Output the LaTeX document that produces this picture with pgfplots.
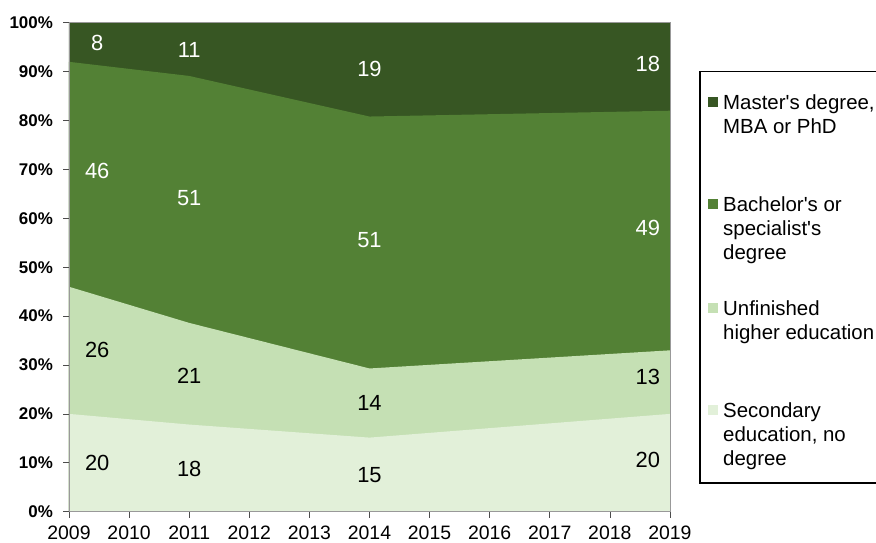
\documentclass[border=0pt]{standalone}
\usepackage{pgfplots}
\pgfplotsset{compat=1.18}
\usepackage{fontspec}
\setmainfont{Liberation Sans}

\definecolor{master}{HTML}{375623}
\definecolor{bachelor}{HTML}{538135}
\definecolor{unfinished}{HTML}{C5E0B4}
\definecolor{secondary}{HTML}{E2F0D9}

\begin{document}
\begin{tikzpicture}
\begin{axis}[
    scale only axis,
    width=601bp, height=489bp,
    xmin=2009, xmax=2019,
    ymin=0, ymax=100,
    axis on top,
    xtick={2009,...,2019},
    xticklabels={2009,2010,2011,2012,2013,2014,2015,2016,2017,2018,2019},
    ytick={0,10,...,100},
    yticklabels={0\%,10\%,20\%,30\%,40\%,50\%,60\%,70\%,80\%,90\%,100\%},
    tick pos=left,
    tick align=outside,
    major tick length=6bp,
    tick style={draw=black!70, line width=0.6bp},
    axis line style={draw=black!40, line width=0.6bp},
    xticklabel style={font=\fontsize{19.5}{19.5}\selectfont, inner sep=0pt, yshift=-8bp},
    yticklabel style={font=\bfseries\fontsize{17}{17}\selectfont, inner sep=0pt, xshift=-10bp},
    clip=false,
]
% cumulative shares in %, scaled so every year sums to 100
% (top of each band; bands painted from the top one down)
\addplot[fill=master, draw=none] coordinates {(2009,100) (2011,100) (2014,100) (2019,100)} \closedcycle;
\addplot[fill=bachelor, draw=none] coordinates {(2009,92) (2011,89.11) (2014,80.81) (2019,82)} \closedcycle;
\addplot[fill=unfinished, draw=none] coordinates {(2009,46) (2011,38.61) (2014,29.29) (2019,33)} \closedcycle;
\addplot[fill=secondary, draw=none] coordinates {(2009,20) (2011,17.82) (2014,15.15) (2019,20)} \closedcycle;

% value labels
\begin{scope}[font=\fontsize{22}{22}\selectfont]
\node[white] at (axis cs:2009.47,95.9) {8};
\node[white] at (axis cs:2009.47,69.7) {46};
\node[black] at (axis cs:2009.47,33.1) {26};
\node[black] at (axis cs:2009.47,10.0) {20};
\node[white] at (axis cs:2011,94.4) {11};
\node[white] at (axis cs:2011,64.1) {51};
\node[black] at (axis cs:2011,27.8) {21};
\node[black] at (axis cs:2011,8.7) {18};
\node[white] at (axis cs:2014,90.5) {19};
\node[white] at (axis cs:2014,55.6) {51};
\node[black] at (axis cs:2014,22.2) {14};
\node[black] at (axis cs:2014,7.5) {15};
\node[white] at (axis cs:2018.63,91.5) {18};
\node[white] at (axis cs:2018.63,58.0) {49};
\node[black] at (axis cs:2018.63,27.6) {13};
\node[black] at (axis cs:2018.63,10.6) {20};
\end{scope}
\end{axis}

% legend box
\coordinate (O) at (current axis.south west);
\draw[black, line width=1.2bp] ([shift={(631bp,28.7bp)}]O) rectangle ([shift={(830bp,440bp)}]O);
\fill[master] ([shift={(639bp,405bp)}]O) rectangle ([shift={(649.3bp,415bp)}]O);
\fill[bachelor] ([shift={(639bp,302.7bp)}]O) rectangle ([shift={(649.3bp,312.7bp)}]O);
\fill[unfinished] ([shift={(639bp,198.7bp)}]O) rectangle ([shift={(649.3bp,208.7bp)}]O);
\fill[secondary] ([shift={(639bp,96.7bp)}]O) rectangle ([shift={(649.3bp,106.7bp)}]O);
\begin{scope}[every node/.style={anchor=north west, inner sep=0pt, align=left, font=\fontsize{20.5}{24}\selectfont}]
\node at ([shift={(654bp,417.3bp)}]O) {Master\textquotesingle s degree,\\MBA or PhD};
\node at ([shift={(654bp,315bp)}]O) {Bachelor\textquotesingle s or\\specialist\textquotesingle s\\degree};
\node at ([shift={(654bp,211bp)}]O) {Unfinished\\higher education};
\node at ([shift={(654bp,109bp)}]O) {Secondary\\education, no\\degree};
\end{scope}

\pgfresetboundingbox
\path[use as bounding box] ([shift={(-69bp,-31.3bp)}]O) rectangle ([shift={(807bp,511.7bp)}]O);
\end{tikzpicture}
\end{document}
